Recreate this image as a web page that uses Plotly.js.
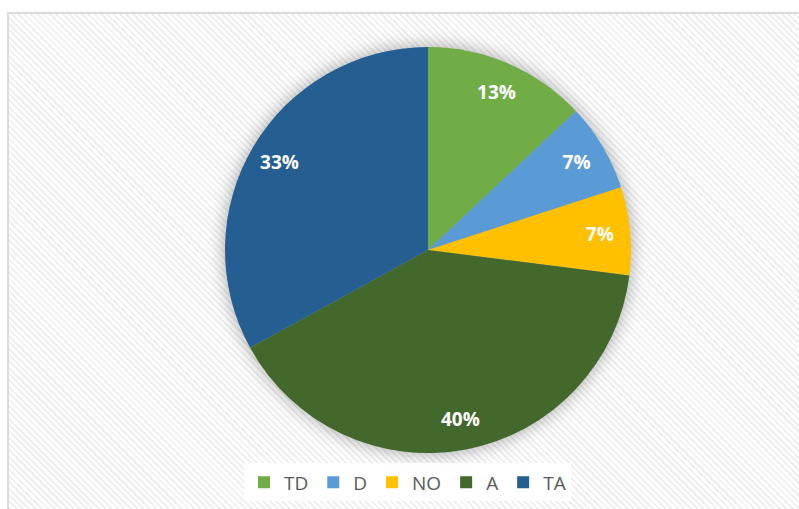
<!DOCTYPE html>
<html>
<head>
<meta charset="utf-8">
<script src="https://cdn.plot.ly/plotly-3.0.1.min.js"></script>
<style>
  html, body { margin: 0; padding: 0; background: #ffffff; }
  #frame {
    position: absolute; left: 7px; top: 12px; width: 800px; height: 505px;
    border-left: 2px solid #d9d9d9; border-top: 2px solid #d9d9d9;
    background: repeating-linear-gradient(45deg, #ffffff 0px, #ffffff 2.5px, #efefef 2.5px, #efefef 4.5px);
  }
  #chart { position: absolute; left: 0; top: 0; width: 799px; height: 509px; }
  .pielayer .trace:first-child { filter: drop-shadow(0px 0px 9px rgba(0,0,0,0.35)); }
</style>
</head>
<body>
<div id="frame"></div>
<div id="chart"></div>
<script>
const categories = ['TD', 'D', 'NO', 'A', 'TA'];
const values = [13, 7, 7, 40, 33];
const colors = ['#70AD47', '#5B9BD5', '#FFC000', '#43682B', '#255E91'];

const dom = { x: [225/799, 631/799], y: [1 - 453/509, 1 - 47/509] };

const slices = {
  type: 'pie',
  labels: categories,
  values: values,
  sort: false,
  direction: 'clockwise',
  rotation: 0,
  marker: { colors: colors, line: { width: 0 } },
  textinfo: 'none',
  hoverinfo: 'none',
  domain: dom
};

// transparent ring carrying the percentage labels, so they sit near the rim as in the reference
const labelsRing = {
  type: 'pie',
  labels: categories,
  values: values,
  sort: false,
  direction: 'clockwise',
  rotation: 0,
  hole: 0.7,
  showlegend: false,
  marker: { colors: colors.map(() => 'rgba(0,0,0,0)'), line: { width: 0 } },
  textinfo: 'percent',
  texttemplate: '%{percent:.0%}',
  textposition: 'inside',
  insidetextorientation: 'horizontal',
  insidetextfont: { family: 'Open Sans, sans-serif', size: 19, color: '#ffffff', weight: 'bold' },
  hoverinfo: 'none',
  domain: dom
};

const layout = {
  width: 799, height: 509,
  margin: { l: 0, r: 0, t: 0, b: 0 },
  paper_bgcolor: 'rgba(0,0,0,0)',
  plot_bgcolor: 'rgba(0,0,0,0)',
  showlegend: true,
  legend: {
    orientation: 'h',
    x: 0.51, xanchor: 'center',
    y: 0.015, yanchor: 'bottom',
    bgcolor: 'rgba(255,255,255,0.9)',
    font: { family: 'Open Sans, sans-serif', size: 19, color: '#595959' },
    itemwidth: 30,
    traceorder: 'normal'
  }
};

Plotly.newPlot('chart', [slices, labelsRing], layout, { staticPlot: true, displayModeBar: false });
</script>
</body>
</html>
